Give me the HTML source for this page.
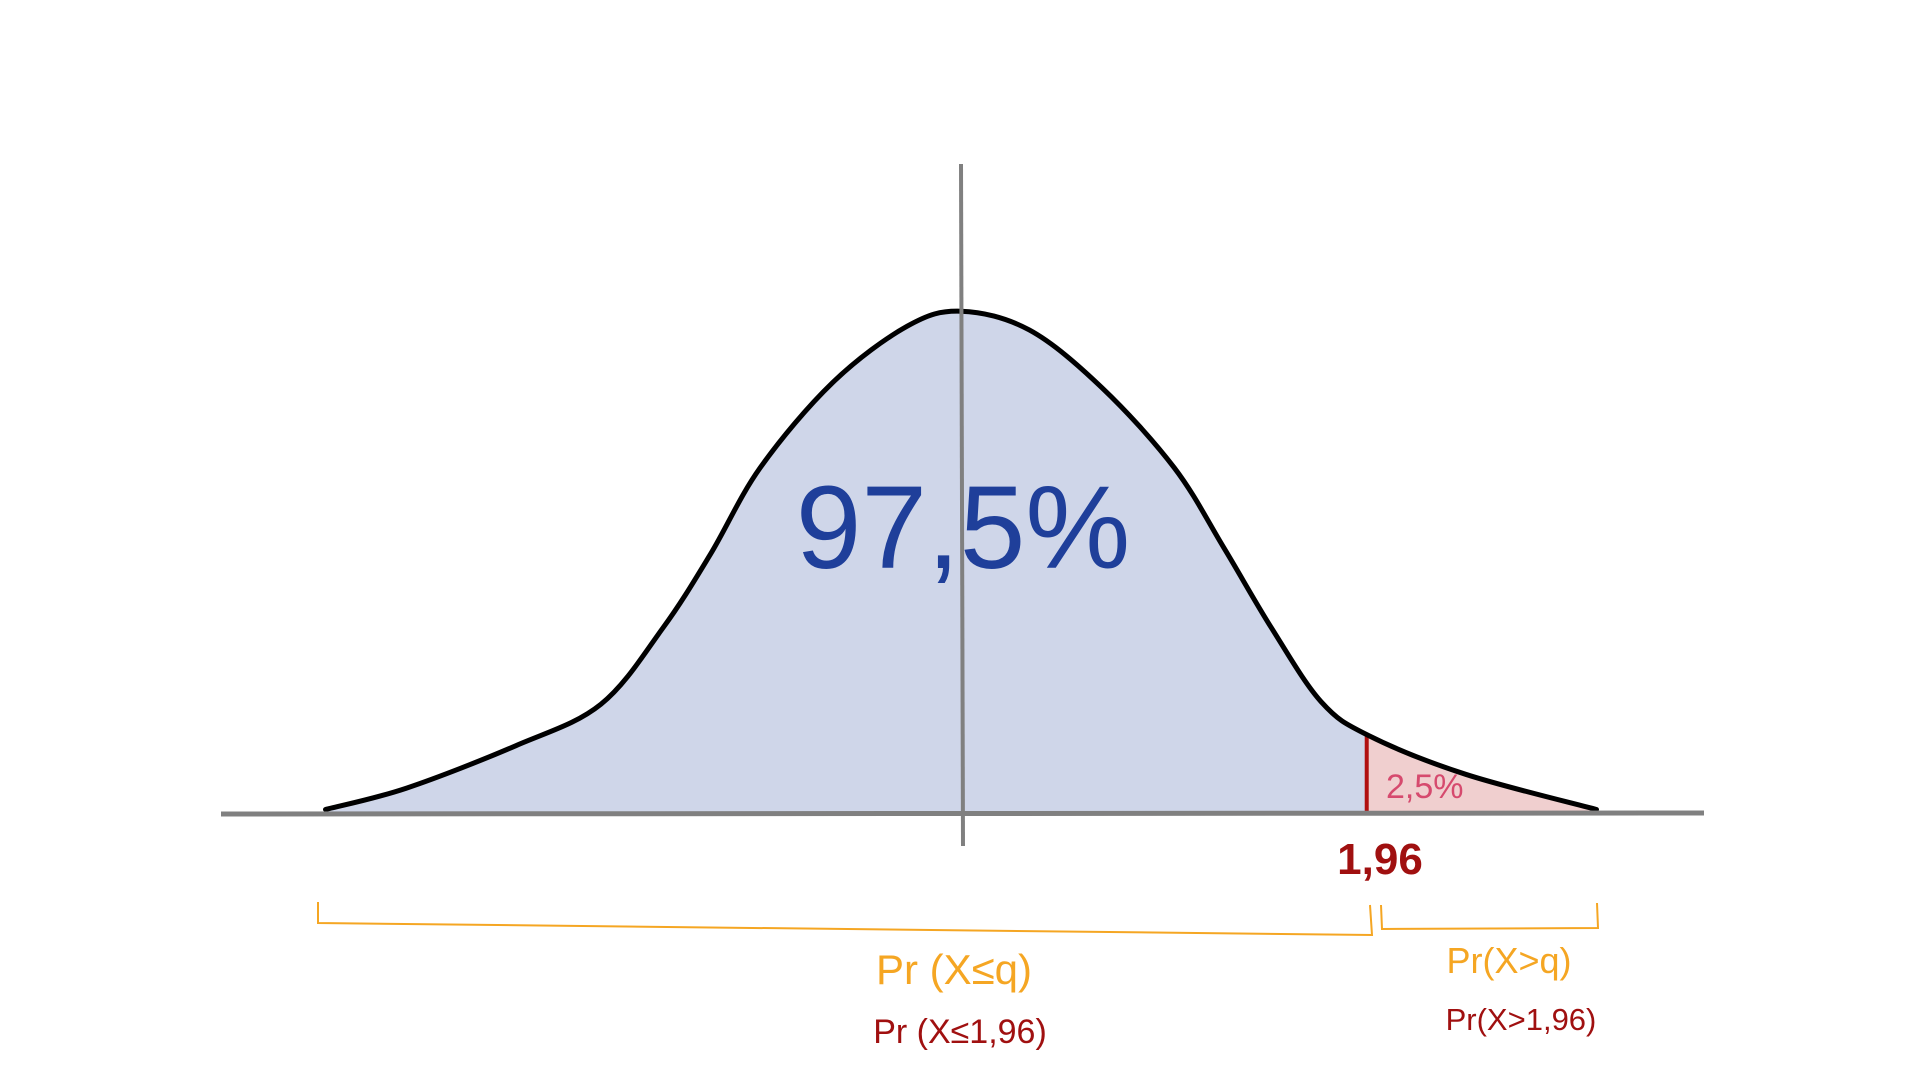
<!DOCTYPE html>
<html><head><meta charset="utf-8"><style>
html,body{margin:0;padding:0;background:#fff;}
svg{display:block;}
text{font-family:"Liberation Sans",sans-serif;}
</style></head><body>
<svg id="chart" width="1920" height="1080" viewBox="0 0 1920 1080" xmlns="http://www.w3.org/2000/svg">
<g id="marks"></g>
<line x1="221" y1="814" x2="1704" y2="813" stroke="#808080" stroke-width="5"/>
<line x1="961" y1="164" x2="963" y2="846" stroke="#808080" stroke-width="4"/>
<text x="963" y="568" font-size="118" fill="#1f3f9a" text-anchor="middle">97,5%</text>
<text x="1386" y="798" font-size="34" fill="#d64a6e">2,5%</text>
<text x="1380" y="874" font-size="44" font-weight="bold" fill="#a01010" text-anchor="middle">1,96</text>
<path d="M318,902 L318,923 L1372,935 L1370,905" fill="none" stroke="#f5a623" stroke-width="2"/>
<path d="M1381,905 L1382,929 L1598,928 L1597,903" fill="none" stroke="#f5a623" stroke-width="2"/>
<text x="954" y="984" font-size="42" fill="#f5a623" text-anchor="middle">Pr (X≤q)</text>
<text x="960" y="1043" font-size="34" fill="#a01010" text-anchor="middle">Pr (X≤1,96)</text>
<text x="1509" y="973" font-size="36" fill="#f5a623" text-anchor="middle">Pr(X&gt;q)</text>
<text x="1521" y="1030" font-size="31" fill="#a01010" text-anchor="middle">Pr(X&gt;1,96)</text>
</svg>
<script>
const zValues=[-3.07,-2.68,-2.15,-1.74,-1.44,-1.21,-0.97,-0.62,-0.26,0,0.33,0.68,1.03,1.27,1.50,1.74,1.97,2.44,3.07];
const density=[0.002,0.019,0.053,0.086,0.147,0.206,0.275,0.343,0.388,0.400,0.385,0.339,0.275,0.211,0.147,0.088,0.061,0.030,0.002];
const critical=[1.96];
const xs=z=>961+z*207, ys=d=>812-d*1252;
const g=document.getElementById('marks'),NS='http://www.w3.org/2000/svg';
function interp(z){for(let i=0;i<zValues.length-1;i++){if(z>=zValues[i]&&z<=zValues[i+1]){const t=(z-zValues[i])/(zValues[i+1]-zValues[i]);return density[i]+t*(density[i+1]-density[i]);}}return 0;}
// smooth path via Catmull-Rom
function smooth(p){let d='M'+p[0][0]+','+p[0][1];
for(let i=0;i<p.length-1;i++){const p0=p[Math.max(0,i-1)],p1=p[i],p2=p[i+1],p3=p[Math.min(p.length-1,i+2)];
const c1=[p1[0]+(p2[0]-p0[0])/6,p1[1]+(p2[1]-p0[1])/6],c2=[p2[0]-(p3[0]-p1[0])/6,p2[1]-(p3[1]-p1[1])/6];
d+=' C'+c1.join(',')+' '+c2.join(',')+' '+p2.join(',');}return d;}
const c=critical[0];
const pts=zValues.map((z,i)=>[xs(z),ys(density[i])]);
let left=[],right=[];
zValues.forEach((z,i)=>{if(z<c)left.push([xs(z),ys(density[i])]);else right.push([xs(z),ys(density[i])]);});
const cp=[xs(c),ys(interp(c))];
function poly(p,fill,name){const e=document.createElementNS(NS,'path');
e.setAttribute('d',smooth(p)+' L'+p[p.length-1][0]+',812 L'+p[0][0]+',812 Z');
e.setAttribute('fill',fill);


g.appendChild(e);}
poly([...left,cp],'#cfd6e9','area-left');
poly([cp,...right],'#f0cfcf','area-right-tail');
const cl=document.createElementNS(NS,'line');
cl.setAttribute('x1',cp[0]);cl.setAttribute('x2',cp[0]);cl.setAttribute('y1',cp[1]);cl.setAttribute('y2',812);
cl.setAttribute('stroke','#b01010');cl.setAttribute('stroke-width','4');


g.appendChild(cl);
const cur=document.createElementNS(NS,'path');
cur.setAttribute('d',smooth(pts));
cur.setAttribute('fill','none');cur.setAttribute('stroke','#000');cur.setAttribute('stroke-width','5');cur.setAttribute('stroke-linejoin','round');cur.setAttribute('stroke-linecap','round');


g.appendChild(cur);
</script>
</body></html>
